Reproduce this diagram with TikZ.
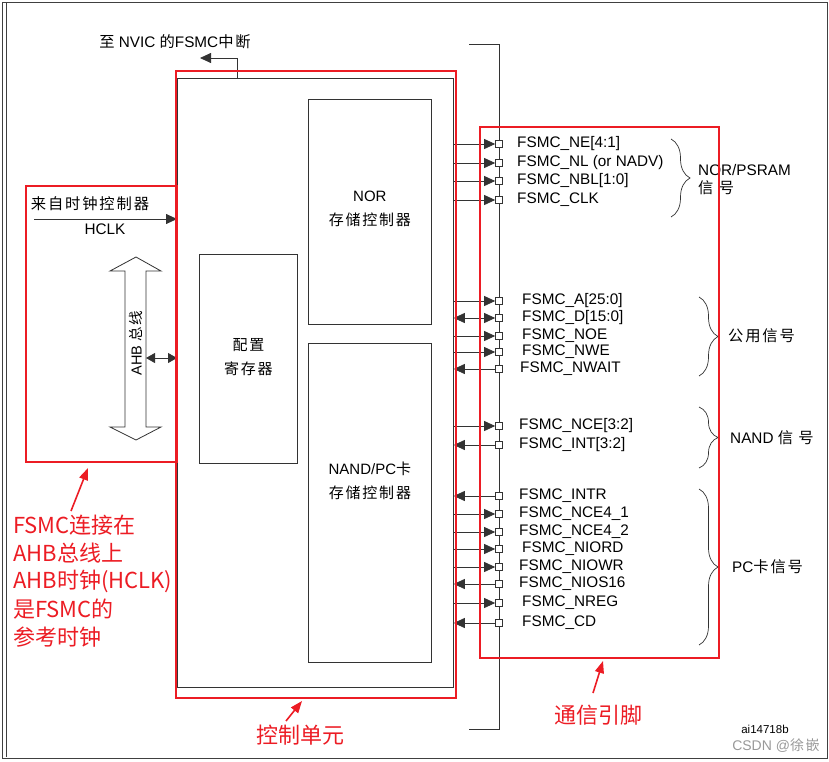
\documentclass[tikz,border=0pt]{standalone}
\usepackage{fontspec}
\setmainfont{Liberation Sans}
\newfontfamily\zhfont[LetterSpace=12]{Noto Sans CJK SC}
\newfontfamily\notefont{Noto Sans CJK SC}
\newcommand\zh[1]{{\zhfont #1}}
\usetikzlibrary{arrows.meta,positioning,calc,decorations.pathreplacing}
\definecolor{annored}{HTML}{EC1C24}
\definecolor{inkgray}{HTML}{333333}
\tikzset{
  >={Triangle[length=11pt,width=10pt]},
  % blocks
  blk/.style={draw=inkgray,line width=0.8pt,inner sep=0pt,anchor=north west},
  redbox/.style={draw=annored,line width=2.2pt,inner sep=0pt,anchor=north west},
  boxtxt/.style={align=center,font=\fontsize{15}{24}\selectfont,inner sep=0pt},
  lnk/.style={draw=inkgray,line width=0.8pt},
  % pins
  pad/.style={draw=inkgray,fill=white,line width=0.7pt,minimum size=7pt,inner sep=0pt},
  sig/.style={anchor=west,inner sep=0pt},
  pinin/.style={lnk,->},
  pinout/.style={lnk,<-},
  pinbi/.style={lnk,<->},
  brc/.style={draw=inkgray,line width=0.7pt,decorate,decoration={brace,amplitude=19pt}},
  grp/.style={anchor=west,align=left,inner sep=0pt},
  % annotations
  note/.style={text=annored,inner sep=0pt,font=\notefont\fontsize{22}{28}\selectfont},
  notearr/.style={draw=annored,line width=1.6pt,-{Triangle[length=12pt,width=9pt]}},
}
\begin{document}
\begin{tikzpicture}[x=1pt,y=-1pt,font=\fontsize{15.3}{18}\selectfont]
\useasboundingbox (0,0) rectangle (829,761);
\draw[black!75,line width=1pt] (2,2) rectangle (827,758);
\draw[black!75,line width=0.8pt] (6,3) -- (6,757);

% control unit
\node[blk,minimum width=276pt,minimum height=609pt] (ctrl) at (177,78) {};
\node[blk,minimum width=123pt,minimum height=225pt] (nor) at (308,99) {};
\node[boxtxt] (nortxt) at ([yshift=3pt]nor.center) {NOR\\\zh{存储控制器}};
\node[blk,minimum width=98pt,minimum height=209pt] (cfg) at (199,254) {};
\node[boxtxt] (cfgtxt) at ([yshift=2pt]cfg.center) {\zh{配置}\\\zh{寄存器}};
\node[blk,minimum width=123pt,minimum height=319pt] (nand) at (308,343) {};
\node[boxtxt] (nandtxt) at ([yshift=22pt]nand.center) {NAND/PC\zh{卡}\\\zh{存储控制器}};

% interrupt out
\node (nvic) at (175,42) {\zh{至} NVIC \zh{的}FSMC\zh{中断}};
\coordinate (irqout) at (200,58);
\draw[lnk,->] ([xshift=60pt]ctrl.north west) |- (irqout);

% clock and AHB
\node (clksrc) at (90,204) {\zh{来自时钟控制器}};
\node (hclk) at (105,229) {HCLK};
\coordinate (hclkin) at (34,219);
\draw[lnk,->] (hclkin) -- (ctrl.west |- hclkin);
\draw[lnk,fill=white] (136,257) -- (161,271) -- (146,271) -- (146,427) -- (161,427)
  -- (136,440) -- (110,427) -- (125,427) -- (125,271) -- (110,271) -- cycle;
\node[rotate=90,font=\fontsize{14.5}{16}\selectfont] (ahb) at (136,343) {AHB \zh{总线}};
\coordinate (ahbport) at (146,358);
\draw[lnk,<->,>={Triangle[length=9pt,width=10pt]}] (ahbport) -- (ctrl.west |- ahbport);

% pin bus
\draw[lnk] (469,44) -- (499,44) -- (499,729) -- (469,729);
\foreach \y/\nm/\tx/\dir [count=\i] in {
  144/{FSMC\_NE[4:1]}/517/pinin,
  163/{FSMC\_NL (or NADV)}/517/pinin,
  181/{FSMC\_NBL[1:0]}/517/pinin,
  200/{FSMC\_CLK}/517/pinin,
  301/{FSMC\_A[25:0]}/522/pinin,
  318/{FSMC\_D[15:0]}/522/pinbi,
  336/{FSMC\_NOE}/522/pinin,
  352/{FSMC\_NWE}/522/pinin,
  369/{FSMC\_NWAIT}/520/pinout,
  426/{FSMC\_NCE[3:2]}/519/pinin,
  445/{FSMC\_INT[3:2]}/519/pinout,
  496/{FSMC\_INTR}/519/pinout,
  514/{FSMC\_NCE4\_1}/519/pinin,
  532/{FSMC\_NCE4\_2}/519/pinin,
  549/{FSMC\_NIORD}/522/pinin,
  567/{FSMC\_NIOWR}/519/pinin,
  584/{FSMC\_NIOS16}/519/pinout,
  603/{FSMC\_NREG}/522/pinin,
  623/{FSMC\_CD}/522/pinout}{
  \node[pad] (p\i) at (499,\y) {};
  \node[sig] (s\i) at (\tx,\y) {\nm};
  \draw[\dir] (ctrl.east |- p\i) -- (p\i.west);
}

% signal groups
\draw[brc] (671,139) -- (671,217);
\node[grp] (gnor) at (698,180) {NOR/PSRAM\\\zh{信 号}};
\draw[brc] (699,297) -- (699,376);
\node[grp] (gcom) at (728,336) {\zh{公用信号}};
\draw[brc] (699,407) -- (699,468);
\node[grp] (gnand) at (730,438) {NAND \zh{信 号}};
\draw[brc] (699,489) -- (699,645);
\node[grp] (gpc) at (732,567) {PC\zh{卡信号}};

% red marks
\node[redbox,minimum width=280pt,minimum height=627pt] (ctrlred) at (175,70) {};
\node[redbox,minimum width=151pt,minimum height=276pt] (ahbred) at (25,185) {};
\node[redbox,minimum width=239pt,minimum height=531pt] (pinred) at (479,126) {};

\foreach \txt [count=\k] in {FSMC连接在,AHB总线上,AHB时钟(HCLK),是FSMC的,参考时钟}
  \node[note,anchor=west] (ann\k) at (13,{497+28*\k}) {\txt};
\coordinate (a1) at (71,511);
\coordinate (a1tip) at (88,468);
\draw[notearr] (a1) -- (a1tip);
\node[note] (ctrlnote) at (300,735) {控制单元};
\coordinate (a2) at (286,721);
\coordinate (a2tip) at (302,701);
\draw[notearr] (a2) -- (a2tip);
\node[note] (pinnote) at (598,715) {通信引脚};
\coordinate (a3) at (593,693);
\coordinate (a3tip) at (603,661);
\draw[notearr] (a3) -- (a3tip);

\node[font=\fontsize{11.5}{13}\selectfont] (figid) at (765,729) {ai14718b};
\node[text=black!40,font=\fontsize{14}{16}\selectfont] (wmark) at (776,746) {CSDN @\zh{徐嵌}};
\end{tikzpicture}
\end{document}
